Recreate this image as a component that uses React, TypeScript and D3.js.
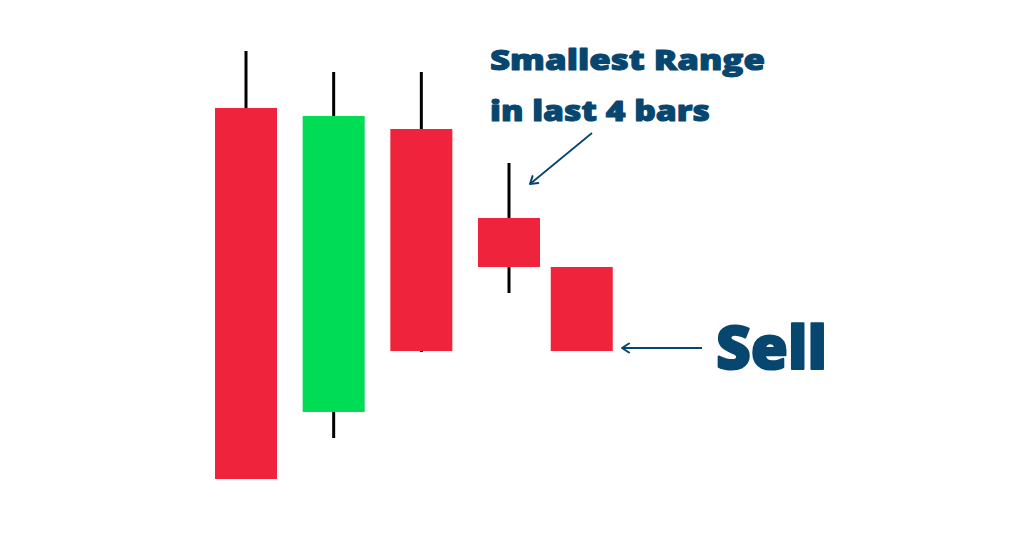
import React from "react";
import * as d3 from "d3";

const W = 1016;
const H = 544;

// candle data (arbitrary price units)
const barPos = [1, 2, 3, 4, 4.83];
const opens = [392, 88, 371, 282, 233];
const highs = [449, 428, 428, 337, 233];
const lows = [21, 62, 148, 207, 149];
const closes = [21, 384, 149, 233, 149];

const RED = "#ef233c";
const GREEN = "#00dc56";
const NAVY = "#07466e";

const x = d3.scaleLinear().domain([1, 4]).range([246, 509]);
const y = d3.scaleLinear().domain([0, 450]).range([500, 50]);
const bodyW = 62;

export default function App() {
  const candles = barPos.map((p, i) => ({
    cx: x(p),
    o: opens[i],
    h: highs[i],
    l: lows[i],
    c: closes[i],
  }));
  return (
    <svg
      width={W}
      height={H}
      style={{ position: "absolute", left: 0, top: 0, background: "#fff" }}
    >
      <defs>
        <marker
          id="chev"
          viewBox="0 0 12 12"
          refX="11"
          refY="6"
          markerWidth="12"
          markerHeight="12"
          orient="auto"
          markerUnits="userSpaceOnUse"
        >
          <path d="M4,1.5 L11,6 L4,10.5" fill="none" stroke={NAVY} strokeWidth="2" strokeLinecap="round" strokeLinejoin="round" />
        </marker>
      </defs>
      {candles.map((d, i) => {
        const top = y(Math.max(d.o, d.c));
        const bot = y(Math.min(d.o, d.c));
        return (
          <g key={i}>
            {d.h > Math.max(d.o, d.c) && (
              <line x1={d.cx} x2={d.cx} y1={y(d.h)} y2={top} stroke="#000" strokeWidth={3} />
            )}
            {d.l < Math.min(d.o, d.c) && (
              <line x1={d.cx} x2={d.cx} y1={bot} y2={y(d.l)} stroke="#000" strokeWidth={3} />
            )}
            <rect
              x={d.cx - bodyW / 2}
              y={top}
              width={bodyW}
              height={bot - top}
              fill={d.c >= d.o ? GREEN : RED}
            />
          </g>
        );
      })}
      <line x1={592} y1={133} x2={530} y2={184} stroke={NAVY} strokeWidth={1.8} markerEnd="url(#chev)" />
      <line x1={702} y1={348} x2={622} y2={348} stroke={NAVY} strokeWidth={2} markerEnd="url(#chev)" />
      <g fontFamily="Open Sans, sans-serif" fontWeight={800} fill={NAVY} stroke={NAVY} strokeLinejoin="round">
        <text x={490} y={70} fontSize={28} strokeWidth={1} textLength={275} lengthAdjust="spacingAndGlyphs">
          Smallest Range
        </text>
        <text x={490} y={121} fontSize={28} strokeWidth={1} textLength={220} lengthAdjust="spacingAndGlyphs">
          in last 4 bars
        </text>
        <text x={716} y={369} fontSize={60} strokeWidth={2} textLength={111} lengthAdjust="spacingAndGlyphs">
          Sell
        </text>
      </g>
    </svg>
  );
}
